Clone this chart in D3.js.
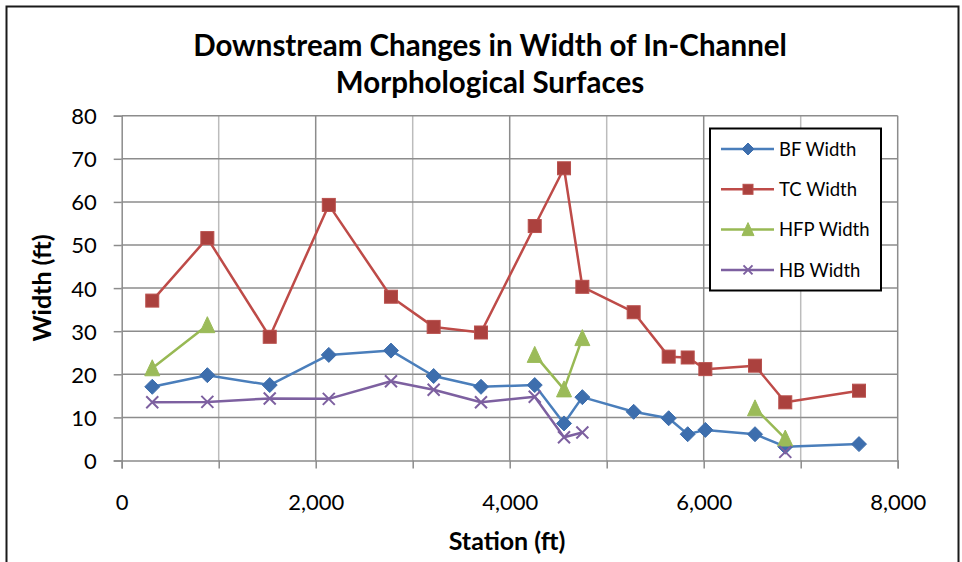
<!DOCTYPE html>
<html lang="en">
  <head>
    <meta charset="utf-8" />
    <script src="https://d3js.org/d3.v7.min.js"></script>
    <style>
      body { margin: 0; background: #fff; }
      text { font-family: Lato, "Open Sans", sans-serif; fill: #000; }
    </style>
  </head>
  <body>
    <script type="text/javascript">

      // data
      var stations = [315, 883, 1526, 2135, 2776, 3216, 3704, 4258, 4560, 4749,
                      5278, 5639, 5835, 6017, 6529, 6841, 7601];
      var bfWidth  = [17.1, 19.8, 17.5, 24.5, 25.5, 19.6, 17.1, 17.5, 8.6, 14.7,
                      11.3, 9.8, 6.1, 7.1, 6.1, 3.2, 3.8];
      var tcWidth  = [37.1, 51.6, 28.7, 59.3, 38.0, 31.0, 29.7, 54.4, 67.8, 40.3,
                      34.4, 24.1, 23.9, 21.2, 22.0, 13.5, 16.2];
      var hfpWidth = [21.4, 31.4, null, null, null, null, null, 24.5, 16.5, 28.4,
                      null, null, null, null, 12.1, 5.1, null];
      var hbWidth  = [13.5, 13.6, 14.4, 14.3, 18.4, 16.4, 13.5, 14.8, 5.4, 6.5,
                      null, null, null, null, null, 2.0, null];
      var seriesNames = ["BF Width", "TC Width", "HFP Width", "HB Width"];
      var xTicks = [0, 2000, 4000, 6000, 8000];
      var yTicks = [0, 10, 20, 30, 40, 50, 60, 70, 80];

      // svg sizes
      var w = 962;
      var h = 562;
      var leftChart = 121.7;
      var rightChart = 897.7;
      var topChart = 115.7;
      var bottomChart = 460.5;

      var svg = d3.select("body")
                  .append("svg")
                  .attr("width", w)
                  .attr("height", h);

      // outer chart border
      svg.append("rect")
         .attr("x", 6.5)
         .attr("y", 6.5)
         .attr("width", 952)
         .attr("height", 580)
         .attr("fill", "none")
         .attr("stroke", "#1a1a1a")
         .attr("stroke-width", 2);

      var xScale = d3.scaleLinear().domain([0, 8000]).range([leftChart, rightChart]);
      var yScale = d3.scaleLinear().domain([0, 80]).range([bottomChart, topChart]);

      // vertical grid lines, every 1000
      svg.append("g")
         .selectAll("line")
         .data(d3.range(1000, 8001, 1000))
         .enter()
         .append("line")
         .attr("x1", function(d) { return xScale(d); })
         .attr("x2", function(d) { return xScale(d); })
         .attr("y1", topChart)
         .attr("y2", bottomChart)
         .attr("stroke", function(d) { return d % 2000 == 0 ? "#8c8c8c" : "#bcbcbc"; })
         .attr("stroke-width", 1.5);

      // horizontal grid lines
      svg.append("g")
         .selectAll("line")
         .data(yTicks.slice(1))
         .enter()
         .append("line")
         .attr("x1", leftChart)
         .attr("x2", rightChart)
         .attr("y1", function(d) { return yScale(d); })
         .attr("y2", function(d) { return yScale(d); })
         .attr("stroke", "#8c8c8c")
         .attr("stroke-width", 1.5);

      // y axis
      var yAxis = d3.axisLeft(yScale)
                    .tickValues(yTicks)
                    .tickSize(8)
                    .tickPadding(17);
      var gy = svg.append("g")
                  .attr("transform", "translate(" + leftChart + ",0)")
                  .call(yAxis);
      gy.select(".domain").attr("stroke", "#8c8c8c").attr("stroke-width", 1.5);
      gy.selectAll(".tick line").attr("stroke", "#8c8c8c").attr("stroke-width", 1.5);
      gy.selectAll(".tick text")
        .style("font-size", "22px")
        .attr("dy", "0.36em");

      // x axis
      var xAxis = d3.axisBottom(xScale)
                    .tickValues(d3.range(0, 8001, 1000))
                    .tickSize(8)
                    .tickPadding(26)
                    .tickFormat(function(d) {
                      return xTicks.indexOf(d) >= 0 ? d3.format(",")(d) : "";
                    });
      var gx = svg.append("g")
                  .attr("transform", "translate(0," + bottomChart + ")")
                  .call(xAxis);
      gx.select(".domain").attr("stroke", "#8c8c8c").attr("stroke-width", 1.5);
      gx.selectAll(".tick line").attr("stroke", "#8c8c8c").attr("stroke-width", 1.5);
      gx.selectAll(".tick text").style("font-size", "22px");

      // titles
      svg.append("text")
         .attr("x", 490)
         .attr("y", 56)
         .attr("text-anchor", "middle")
         .style("font-size", "29.5px")
         .style("font-weight", "bold")
         .text("Downstream Changes in Width of In-Channel");
      svg.append("text")
         .attr("x", 490)
         .attr("y", 93)
         .attr("text-anchor", "middle")
         .style("font-size", "29.5px")
         .style("font-weight", "bold")
         .text("Morphological Surfaces");

      // axis labels
      svg.append("text")
         .attr("x", 507)
         .attr("y", 550)
         .attr("text-anchor", "middle")
         .style("font-size", "25px")
         .style("font-weight", "bold")
         .text("Station (ft)");
      svg.append("text")
         .attr("transform", "translate(51,288) rotate(-90)")
         .attr("text-anchor", "middle")
         .style("font-size", "25px")
         .style("font-weight", "bold")
         .text("Width (ft)");

      // series styles
      var series = [
        {name: seriesNames[0], values: bfWidth,  line: "#4a7ebb", fill: "#3d6ead", shape: "diamond"},
        {name: seriesNames[1], values: tcWidth,  line: "#be4b48", fill: "#ab413e", shape: "square"},
        {name: seriesNames[2], values: hfpWidth, line: "#98b954", fill: "#9bbb59", shape: "triangle"},
        {name: seriesNames[3], values: hbWidth,  line: "#7d60a0", fill: "#7d60a0", shape: "cross"}
      ];

      // marker drawing
      function drawMarker(g, shape, fill, size) {
        var s = size / 2;
        if (shape == "diamond") {
          g.append("path").attr("d", "M0," + (-s - 1) + "L" + (s + 1) + ",0L0," + (s + 1) + "L" + (-s - 1) + ",0Z")
           .attr("fill", fill).attr("stroke", fill).attr("stroke-width", 1);
        } else if (shape == "square") {
          g.append("rect").attr("x", -s).attr("y", -s).attr("width", size).attr("height", size)
           .attr("fill", fill).attr("stroke", "#b9504d").attr("stroke-width", 1);
        } else if (shape == "triangle") {
          g.append("path").attr("d", "M0," + (-s - 2) + "L" + (s + 1) + "," + (s + 1) + "L" + (-s - 1) + "," + (s + 1) + "Z")
           .attr("fill", fill).attr("stroke", fill).attr("stroke-width", 1);
        } else {
          g.append("path").attr("d", "M" + (-s) + "," + (-s) + "L" + s + "," + s + "M" + s + "," + (-s) + "L" + (-s) + "," + s)
           .attr("fill", "none").attr("stroke", fill).attr("stroke-width", 2);
        }
      }

      var line = d3.line()
                   .defined(function(d) { return d[1] != null; })
                   .x(function(d) { return xScale(d[0]); })
                   .y(function(d) { return yScale(d[1]); });

      series.forEach(function(ser) {
        var pts = stations.map(function(st, i) { return [st, ser.values[i]]; });
        svg.append("path")
           .datum(pts)
           .attr("d", line)
           .attr("fill", "none")
           .attr("stroke", ser.line)
           .attr("stroke-width", 2.5)
           .attr("stroke-linejoin", "round");
        pts.filter(function(d) { return d[1] != null; }).forEach(function(d) {
          var g = svg.append("g")
                     .attr("transform", "translate(" + xScale(d[0]) + "," + yScale(d[1]) + ")");
          drawMarker(g, ser.shape, ser.fill, ser.shape == "cross" ? 12 : 13);
        });
      });

      // legend
      var legend = svg.append("g");
      legend.append("rect")
            .attr("x", 710)
            .attr("y", 128.5)
            .attr("width", 171)
            .attr("height", 162)
            .attr("fill", "#fff")
            .attr("stroke", "#000")
            .attr("stroke-width", 2);
      series.forEach(function(ser, i) {
        var ly = 149 + i * 40.3;
        legend.append("line")
              .attr("x1", 721).attr("x2", 774)
              .attr("y1", ly).attr("y2", ly)
              .attr("stroke", ser.line)
              .attr("stroke-width", 2.5);
        var g = legend.append("g").attr("transform", "translate(748," + ly + ")");
        drawMarker(g, ser.shape, ser.fill, ser.shape == "cross" ? 9 : 10);
        legend.append("text")
              .attr("x", 779)
              .attr("y", ly)
              .attr("dy", "0.36em")
              .style("font-size", "18.5px")
              .text(ser.name);
      });

    </script>
  </body>
</html>
